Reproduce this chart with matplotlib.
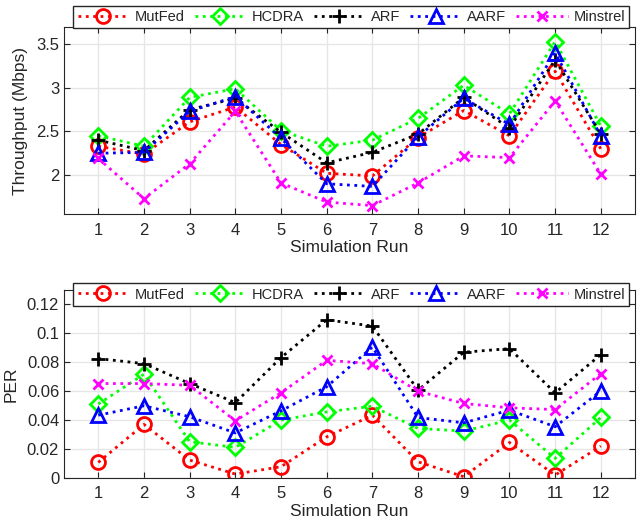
import matplotlib.pyplot as plt

# simulation runs
runs = list(range(1, 13))

# throughput (Mbps)
thr_mutfed = [2.33, 2.24, 2.61, 2.78, 2.35, 2.02, 1.99, 2.43, 2.74, 2.45, 3.19, 2.30]
thr_hcdra = [2.45, 2.33, 2.89, 2.99, 2.51, 2.33, 2.40, 2.65, 3.03, 2.70, 3.53, 2.56]
thr_arf = [2.40, 2.28, 2.75, 2.88, 2.49, 2.14, 2.26, 2.47, 2.89, 2.54, 3.32, 2.47]
thr_aarf = [2.25, 2.26, 2.73, 2.90, 2.42, 1.90, 1.87, 2.44, 2.88, 2.58, 3.40, 2.45]
thr_minstrel = [2.19, 1.73, 2.13, 2.73, 1.91, 1.69, 1.65, 1.91, 2.22, 2.20, 2.85, 2.01]

# packet error rate
per_mutfed = [0.0106, 0.0369, 0.0122, 0.0025, 0.0076, 0.0283, 0.0433, 0.0110, 0.0007, 0.0244, 0.0018, 0.0219]
per_hcdra = [0.0510, 0.0717, 0.0249, 0.0210, 0.0399, 0.0456, 0.0495, 0.0341, 0.0323, 0.0399, 0.0134, 0.0417]
per_arf = [0.0825, 0.0790, 0.0652, 0.0520, 0.0832, 0.1094, 0.1050, 0.0606, 0.0869, 0.0894, 0.0588, 0.0853]
per_aarf = [0.0433, 0.0498, 0.0422, 0.0310, 0.0463, 0.0630, 0.0905, 0.0417, 0.0380, 0.0468, 0.0353, 0.0601]
per_minstrel = [0.0652, 0.0652, 0.0640, 0.0394, 0.0588, 0.0813, 0.0790, 0.0599, 0.0514, 0.0484, 0.0472, 0.0721]

names = ['MutFed', 'HCDRA', 'ARF', 'AARF', 'Minstrel']
colors = ['#FF0000', '#00FF00', '#000000', '#0000FF', '#FF00FF']
markers = ['o', 'D', '+', '^', 'x']
msizes = [10, 8, 10, 10, 7]

plt.rcParams['font.family'] = ['Liberation Sans', 'DejaVu Sans']
txt = '#262626'

fig = plt.figure(figsize=(6.37, 5.25), dpi=100)
ax1 = fig.add_axes([0.1005, 0.5918, 0.8965, 0.3572])
ax2 = fig.add_axes([0.1005, 0.0901, 0.8965, 0.3575])


def draw(ax, series, ylim, yticks, yticklabels, ylabel, leg_y):
    for s, n, c, m, ms in zip(series, names, colors, markers, msizes):
        ax.plot(runs, s, linestyle=':', color=c, linewidth=2, marker=m,
                markersize=ms, markerfacecolor='none', markeredgewidth=2,
                label=n)
    ax.set_xlim(0.25, 12.75)
    ax.set_ylim(*ylim)
    ax.set_xticks(runs)
    ax.set_yticks(yticks)
    ax.set_yticklabels(yticklabels)
    ax.grid(True, color='#e6e6e6', linewidth=1)
    ax.set_axisbelow(True)
    ax.tick_params(direction='in', top=True, right=True, labelsize=12,
                   colors=txt, length=4)
    ax.tick_params(axis='x', pad=6)
    for sp in ax.spines.values():
        sp.set_color(txt)
    ax.set_xlabel('Simulation Run', fontsize=12.5, color=txt, labelpad=2)
    ax.set_ylabel(ylabel, fontsize=12.5, color=txt, labelpad=6)
    leg = ax.legend(loc='center', bbox_to_anchor=(0.503, leg_y), ncol=5,
                    fontsize=10.5, handlelength=3.5, columnspacing=0.7,
                    handletextpad=0.4, borderpad=0.3, fancybox=False,
                    framealpha=1, edgecolor=txt)
    for t in leg.get_texts():
        t.set_color(txt)


draw(ax1, [thr_mutfed, thr_hcdra, thr_arf, thr_aarf, thr_minstrel],
     (1.55, 3.7), [2, 2.5, 3, 3.5], ['2', '2.5', '3', '3.5'],
     'Throughput (Mbps)', 1.052)
draw(ax2, [per_mutfed, per_hcdra, per_arf, per_aarf, per_minstrel],
     (0, 0.13), [0, 0.02, 0.04, 0.06, 0.08, 0.1, 0.12],
     ['0', '0.02', '0.04', '0.06', '0.08', '0.1', '0.12'],
     'PER', 0.976)

fig.savefig('out.png', dpi=100)
